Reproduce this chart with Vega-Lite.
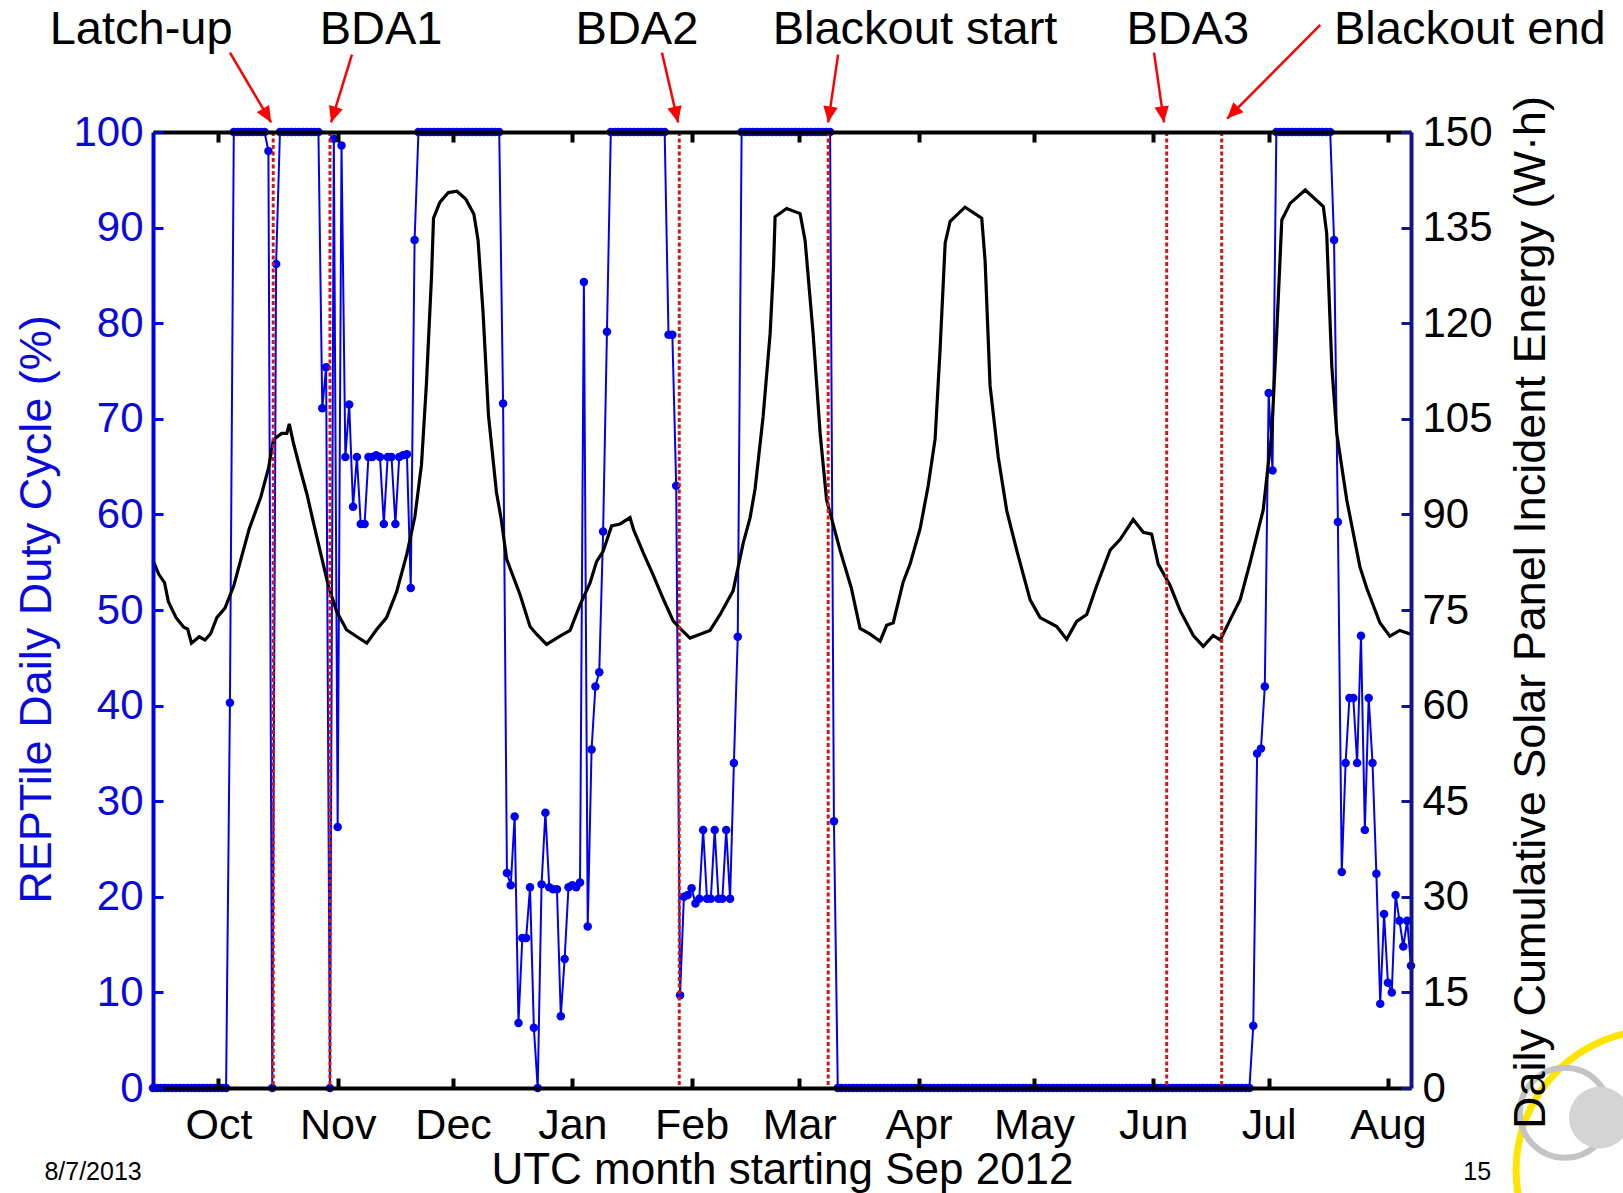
{
"$schema": "https://vega.github.io/schema/vega-lite/v6.json",
"width": 1258, "height": 956,
"autosize": {"type": "none"},
"padding": {"left": 153, "top": 132, "right": 212, "bottom": 105},
"background": "white",
"config": {"view": {"stroke": null}, "font": "Liberation Sans", "axis": {"grid": false}},
"datasets": {
"duty": [
{"t":"2012-09-14","v":0},{"t":"2012-09-15","v":0},{"t":"2012-09-16","v":0},{"t":"2012-09-17","v":0},{"t":"2012-09-18","v":0},{"t":"2012-09-19","v":0},{"t":"2012-09-20","v":0},{"t":"2012-09-21","v":0},{"t":"2012-09-22","v":0},{"t":"2012-09-23","v":0},{"t":"2012-09-24","v":0},{"t":"2012-09-25","v":0},{"t":"2012-09-26","v":0},{"t":"2012-09-27","v":0},{"t":"2012-09-28","v":0},{"t":"2012-09-29","v":0},{"t":"2012-09-30","v":0},
{"t":"2012-10-01","v":0},{"t":"2012-10-02","v":0},{"t":"2012-10-03","v":0},{"t":"2012-10-04","v":40.3},
{"t":"2012-10-05","v":100},{"t":"2012-10-06","v":100},{"t":"2012-10-07","v":100},{"t":"2012-10-08","v":100},{"t":"2012-10-09","v":100},{"t":"2012-10-10","v":100},{"t":"2012-10-11","v":100},{"t":"2012-10-12","v":100},{"t":"2012-10-13","v":100},
{"t":"2012-10-14","v":98},{"t":"2012-10-15","v":0},{"t":"2012-10-16","v":86.2},
{"t":"2012-10-17","v":100},{"t":"2012-10-18","v":100},{"t":"2012-10-19","v":100},{"t":"2012-10-20","v":100},{"t":"2012-10-21","v":100},{"t":"2012-10-22","v":100},{"t":"2012-10-23","v":100},{"t":"2012-10-24","v":100},{"t":"2012-10-25","v":100},{"t":"2012-10-26","v":100},{"t":"2012-10-27","v":100},
{"t":"2012-10-28","v":71.1},{"t":"2012-10-29","v":75.4},{"t":"2012-10-30","v":0},{"t":"2012-10-31","v":99.3},
{"t":"2012-11-01","v":27.3},{"t":"2012-11-02","v":98.6},{"t":"2012-11-03","v":66},{"t":"2012-11-04","v":71.5},{"t":"2012-11-05","v":60.8},{"t":"2012-11-06","v":66},{"t":"2012-11-07","v":59},{"t":"2012-11-08","v":59},{"t":"2012-11-09","v":66},{"t":"2012-11-10","v":66},{"t":"2012-11-11","v":66.2},{"t":"2012-11-12","v":66},{"t":"2012-11-13","v":59},{"t":"2012-11-14","v":66},{"t":"2012-11-15","v":66},{"t":"2012-11-16","v":59},{"t":"2012-11-17","v":66},{"t":"2012-11-18","v":66.2},{"t":"2012-11-19","v":66.3},{"t":"2012-11-20","v":52.3},{"t":"2012-11-21","v":88.7},
{"t":"2012-11-22","v":100},{"t":"2012-11-23","v":100},{"t":"2012-11-24","v":100},{"t":"2012-11-25","v":100},{"t":"2012-11-26","v":100},{"t":"2012-11-27","v":100},{"t":"2012-11-28","v":100},{"t":"2012-11-29","v":100},{"t":"2012-11-30","v":100},
{"t":"2012-12-01","v":100},{"t":"2012-12-02","v":100},{"t":"2012-12-03","v":100},{"t":"2012-12-04","v":100},{"t":"2012-12-05","v":100},{"t":"2012-12-06","v":100},{"t":"2012-12-07","v":100},{"t":"2012-12-08","v":100},{"t":"2012-12-09","v":100},{"t":"2012-12-10","v":100},{"t":"2012-12-11","v":100},{"t":"2012-12-12","v":100},{"t":"2012-12-13","v":100},
{"t":"2012-12-14","v":71.6},{"t":"2012-12-15","v":22.5},{"t":"2012-12-16","v":21.2},{"t":"2012-12-17","v":28.4},{"t":"2012-12-18","v":6.8},{"t":"2012-12-19","v":15.7},{"t":"2012-12-20","v":15.7},{"t":"2012-12-21","v":21},{"t":"2012-12-22","v":6.3},{"t":"2012-12-23","v":0},{"t":"2012-12-24","v":21.3},{"t":"2012-12-25","v":28.8},{"t":"2012-12-26","v":21},{"t":"2012-12-27","v":20.8},{"t":"2012-12-28","v":20.8},{"t":"2012-12-29","v":7.5},{"t":"2012-12-30","v":13.5},{"t":"2012-12-31","v":21},
{"t":"2013-01-01","v":21.2},{"t":"2013-01-02","v":21},{"t":"2013-01-03","v":21.5},{"t":"2013-01-04","v":84.3},{"t":"2013-01-05","v":16.9},{"t":"2013-01-06","v":35.4},{"t":"2013-01-07","v":42},{"t":"2013-01-08","v":43.5},{"t":"2013-01-09","v":58.2},{"t":"2013-01-10","v":79.1},
{"t":"2013-01-11","v":100},{"t":"2013-01-12","v":100},{"t":"2013-01-13","v":100},{"t":"2013-01-14","v":100},{"t":"2013-01-15","v":100},{"t":"2013-01-16","v":100},{"t":"2013-01-17","v":100},{"t":"2013-01-18","v":100},{"t":"2013-01-19","v":100},{"t":"2013-01-20","v":100},{"t":"2013-01-21","v":100},{"t":"2013-01-22","v":100},{"t":"2013-01-23","v":100},{"t":"2013-01-24","v":100},{"t":"2013-01-25","v":100},
{"t":"2013-01-26","v":78.8},{"t":"2013-01-27","v":78.8},{"t":"2013-01-28","v":63},{"t":"2013-01-29","v":9.7},{"t":"2013-01-30","v":20},{"t":"2013-01-31","v":20.2},
{"t":"2013-02-01","v":20.9},{"t":"2013-02-02","v":19.3},{"t":"2013-02-03","v":19.8},{"t":"2013-02-04","v":27},{"t":"2013-02-05","v":19.8},{"t":"2013-02-06","v":19.8},{"t":"2013-02-07","v":27},{"t":"2013-02-08","v":19.8},{"t":"2013-02-09","v":19.8},{"t":"2013-02-10","v":27},{"t":"2013-02-11","v":19.8},{"t":"2013-02-12","v":34},{"t":"2013-02-13","v":47.2},
{"t":"2013-02-14","v":100},{"t":"2013-02-15","v":100},{"t":"2013-02-16","v":100},{"t":"2013-02-17","v":100},{"t":"2013-02-18","v":100},{"t":"2013-02-19","v":100},{"t":"2013-02-20","v":100},{"t":"2013-02-21","v":100},{"t":"2013-02-22","v":100},{"t":"2013-02-23","v":100},{"t":"2013-02-24","v":100},{"t":"2013-02-25","v":100},{"t":"2013-02-26","v":100},{"t":"2013-02-27","v":100},{"t":"2013-02-28","v":100},
{"t":"2013-03-01","v":100},{"t":"2013-03-02","v":100},{"t":"2013-03-03","v":100},{"t":"2013-03-04","v":100},{"t":"2013-03-05","v":100},{"t":"2013-03-06","v":100},{"t":"2013-03-07","v":100},{"t":"2013-03-08","v":100},{"t":"2013-03-09","v":100},
{"t":"2013-03-10","v":27.9},
{"t":"2013-03-11","v":0},{"t":"2013-03-12","v":0},{"t":"2013-03-13","v":0},{"t":"2013-03-14","v":0},{"t":"2013-03-15","v":0},{"t":"2013-03-16","v":0},{"t":"2013-03-17","v":0},{"t":"2013-03-18","v":0},{"t":"2013-03-19","v":0},{"t":"2013-03-20","v":0},{"t":"2013-03-21","v":0},{"t":"2013-03-22","v":0},{"t":"2013-03-23","v":0},{"t":"2013-03-24","v":0},{"t":"2013-03-25","v":0},{"t":"2013-03-26","v":0},{"t":"2013-03-27","v":0},{"t":"2013-03-28","v":0},{"t":"2013-03-29","v":0},{"t":"2013-03-30","v":0},{"t":"2013-03-31","v":0},
{"t":"2013-04-01","v":0},{"t":"2013-04-02","v":0},{"t":"2013-04-03","v":0},{"t":"2013-04-04","v":0},{"t":"2013-04-05","v":0},{"t":"2013-04-06","v":0},{"t":"2013-04-07","v":0},{"t":"2013-04-08","v":0},{"t":"2013-04-09","v":0},{"t":"2013-04-10","v":0},{"t":"2013-04-11","v":0},{"t":"2013-04-12","v":0},{"t":"2013-04-13","v":0},{"t":"2013-04-14","v":0},{"t":"2013-04-15","v":0},{"t":"2013-04-16","v":0},{"t":"2013-04-17","v":0},{"t":"2013-04-18","v":0},{"t":"2013-04-19","v":0},{"t":"2013-04-20","v":0},{"t":"2013-04-21","v":0},{"t":"2013-04-22","v":0},{"t":"2013-04-23","v":0},{"t":"2013-04-24","v":0},{"t":"2013-04-25","v":0},{"t":"2013-04-26","v":0},{"t":"2013-04-27","v":0},{"t":"2013-04-28","v":0},{"t":"2013-04-29","v":0},{"t":"2013-04-30","v":0},
{"t":"2013-05-01","v":0},{"t":"2013-05-02","v":0},{"t":"2013-05-03","v":0},{"t":"2013-05-04","v":0},{"t":"2013-05-05","v":0},{"t":"2013-05-06","v":0},{"t":"2013-05-07","v":0},{"t":"2013-05-08","v":0},{"t":"2013-05-09","v":0},{"t":"2013-05-10","v":0},{"t":"2013-05-11","v":0},{"t":"2013-05-12","v":0},{"t":"2013-05-13","v":0},{"t":"2013-05-14","v":0},{"t":"2013-05-15","v":0},{"t":"2013-05-16","v":0},{"t":"2013-05-17","v":0},{"t":"2013-05-18","v":0},{"t":"2013-05-19","v":0},{"t":"2013-05-20","v":0},{"t":"2013-05-21","v":0},{"t":"2013-05-22","v":0},{"t":"2013-05-23","v":0},{"t":"2013-05-24","v":0},{"t":"2013-05-25","v":0},{"t":"2013-05-26","v":0},{"t":"2013-05-27","v":0},{"t":"2013-05-28","v":0},{"t":"2013-05-29","v":0},{"t":"2013-05-30","v":0},{"t":"2013-05-31","v":0},
{"t":"2013-06-01","v":0},{"t":"2013-06-02","v":0},{"t":"2013-06-03","v":0},{"t":"2013-06-04","v":0},{"t":"2013-06-05","v":0},{"t":"2013-06-06","v":0},{"t":"2013-06-07","v":0},{"t":"2013-06-08","v":0},{"t":"2013-06-09","v":0},{"t":"2013-06-10","v":0},{"t":"2013-06-11","v":0},{"t":"2013-06-12","v":0},{"t":"2013-06-13","v":0},{"t":"2013-06-14","v":0},{"t":"2013-06-15","v":0},{"t":"2013-06-16","v":0},{"t":"2013-06-17","v":0},{"t":"2013-06-18","v":0},{"t":"2013-06-19","v":0},{"t":"2013-06-20","v":0},{"t":"2013-06-21","v":0},{"t":"2013-06-22","v":0},{"t":"2013-06-23","v":0},{"t":"2013-06-24","v":0},{"t":"2013-06-25","v":0},{"t":"2013-06-26","v":0},
{"t":"2013-06-27","v":6.5},{"t":"2013-06-28","v":35},{"t":"2013-06-29","v":35.5},{"t":"2013-06-30","v":42},{"t":"2013-07-01","v":72.7},{"t":"2013-07-02","v":64.6},
{"t":"2013-07-03","v":100},{"t":"2013-07-04","v":100},{"t":"2013-07-05","v":100},{"t":"2013-07-06","v":100},{"t":"2013-07-07","v":100},{"t":"2013-07-08","v":100},{"t":"2013-07-09","v":100},{"t":"2013-07-10","v":100},{"t":"2013-07-11","v":100},{"t":"2013-07-12","v":100},{"t":"2013-07-13","v":100},{"t":"2013-07-14","v":100},{"t":"2013-07-15","v":100},{"t":"2013-07-16","v":100},{"t":"2013-07-17","v":100},
{"t":"2013-07-18","v":88.7},{"t":"2013-07-19","v":59.2},{"t":"2013-07-20","v":22.6},{"t":"2013-07-21","v":34},{"t":"2013-07-22","v":40.8},{"t":"2013-07-23","v":40.8},{"t":"2013-07-24","v":34},{"t":"2013-07-25","v":47.3},{"t":"2013-07-26","v":27},{"t":"2013-07-27","v":40.8},{"t":"2013-07-28","v":34},{"t":"2013-07-29","v":22.4},{"t":"2013-07-30","v":8.8},{"t":"2013-07-31","v":18.2},
{"t":"2013-08-01","v":11},{"t":"2013-08-02","v":10},{"t":"2013-08-03","v":20.2},{"t":"2013-08-04","v":17.5},{"t":"2013-08-05","v":14.8},{"t":"2013-08-06","v":17.5},{"t":"2013-08-07","v":12.8}
],
"solar": [
{"t":"2012-09-14T00:00Z","e":82.8},{"t":"2012-09-15T12:00Z","e":80.6},{"t":"2012-09-17T00:00Z","e":79.3},{"t":"2012-09-18T00:00Z","e":76.3},{"t":"2012-09-20T00:00Z","e":73.8},{"t":"2012-09-22T00:00Z","e":72.3},{"t":"2012-09-23T00:00Z","e":72.0},{"t":"2012-09-24T00:00Z","e":69.8},{"t":"2012-09-26T00:00Z","e":70.8},{"t":"2012-09-27T12:00Z","e":70.3},{"t":"2012-09-29T00:00Z","e":71.3},{"t":"2012-09-30T14:00Z","e":73.8},
{"t":"2012-10-02T17:00Z","e":75.3},{"t":"2012-10-05T00:00Z","e":78.8},{"t":"2012-10-07T00:00Z","e":83.3},{"t":"2012-10-09T00:00Z","e":87.7},{"t":"2012-10-12T00:00Z","e":92.7},{"t":"2012-10-14T00:00Z","e":97.2},{"t":"2012-10-15T07:00Z","e":101.7},{"t":"2012-10-17T10:00Z","e":102.7},{"t":"2012-10-18T19:00Z","e":102.7},{"t":"2012-10-19T10:00Z","e":104.2},{"t":"2012-10-20T12:00Z","e":101.2},{"t":"2012-10-22T05:00Z","e":97.2},{"t":"2012-10-24T00:00Z","e":93.2},{"t":"2012-10-25T17:00Z","e":88.7},{"t":"2012-10-27T10:00Z","e":84.3},{"t":"2012-10-29T14:00Z","e":78.8},{"t":"2012-10-31T17:00Z","e":74.8},
{"t":"2012-11-03T07:00Z","e":71.9},{"t":"2012-11-06T00:00Z","e":70.8},{"t":"2012-11-08T14:00Z","e":69.8},{"t":"2012-11-11T02:00Z","e":71.9},{"t":"2012-11-13T17:00Z","e":73.8},{"t":"2012-11-16T07:00Z","e":77.8},{"t":"2012-11-19T00:00Z","e":83.8},{"t":"2012-11-21T02:00Z","e":89.7},{"t":"2012-11-22T19:00Z","e":97.8},{"t":"2012-11-24T02:00Z","e":110.6},{"t":"2012-11-25T10:00Z","e":127.6},{"t":"2012-11-25T22:00Z","e":136.5},{"t":"2012-11-27T14:00Z","e":139},{"t":"2012-11-29T19:00Z","e":140.5},
{"t":"2012-12-02T00:00Z","e":140.7},{"t":"2012-12-04T07:00Z","e":139.5},{"t":"2012-12-06T10:00Z","e":137.1},{"t":"2012-12-07T12:00Z","e":133},{"t":"2012-12-08T19:00Z","e":121.7},{"t":"2012-12-10T05:00Z","e":105.5},{"t":"2012-12-12T07:00Z","e":93.4},{"t":"2012-12-13T12:00Z","e":89.3},{"t":"2012-12-14T22:00Z","e":83},{"t":"2012-12-18T10:00Z","e":77.4},{"t":"2012-12-21T00:00Z","e":72.4},{"t":"2012-12-22T17:00Z","e":71.2},{"t":"2012-12-25T07:00Z","e":69.6},{"t":"2012-12-28T19:00Z","e":70.9},{"t":"2012-12-31T10:00Z","e":71.8},
{"t":"2013-01-03T00:00Z","e":75.8},{"t":"2013-01-05T14:00Z","e":79.2},{"t":"2013-01-07T07:00Z","e":82.6},{"t":"2013-01-09T00:00Z","e":84.2},{"t":"2013-01-11T05:00Z","e":88.2},{"t":"2013-01-13T10:00Z","e":88.5},{"t":"2013-01-16T00:00Z","e":89.5},{"t":"2013-01-16T22:00Z","e":87.6},{"t":"2013-01-19T12:00Z","e":83.9},{"t":"2013-01-22T00:00Z","e":80.5},{"t":"2013-01-24T14:00Z","e":76.8},{"t":"2013-01-27T05:00Z","e":73.3},{"t":"2013-01-29T00:00Z","e":72.1},{"t":"2013-01-31T14:00Z","e":70.6},
{"t":"2013-02-03T05:00Z","e":71.2},{"t":"2013-02-05T19:00Z","e":71.8},{"t":"2013-02-08T10:00Z","e":74.3},{"t":"2013-02-11T19:00Z","e":78},{"t":"2013-02-14T10:00Z","e":85.5},{"t":"2013-02-16T05:00Z","e":89.5},{"t":"2013-02-17T12:00Z","e":94},{"t":"2013-02-19T14:00Z","e":105.3},{"t":"2013-02-21T10:00Z","e":118.4},{"t":"2013-02-22T07:00Z","e":128.9},{"t":"2013-02-22T17:00Z","e":136.7},{"t":"2013-02-25T17:00Z","e":138},
{"t":"2013-03-01T05:00Z","e":137.2},{"t":"2013-03-02T12:00Z","e":133},{"t":"2013-03-04T14:00Z","e":118.4},{"t":"2013-03-06T10:00Z","e":102.7},{"t":"2013-03-08T02:00Z","e":92.3},{"t":"2013-03-11T14:00Z","e":84.4},{"t":"2013-03-14T12:00Z","e":78.5},{"t":"2013-03-16T19:00Z","e":72.1},{"t":"2013-03-19T10:00Z","e":71.2},{"t":"2013-03-22T00:00Z","e":70.1},{"t":"2013-03-23T17:00Z","e":72.6},{"t":"2013-03-25T10:00Z","e":73},{"t":"2013-03-28T00:00Z","e":79.4},{"t":"2013-03-29T19:00Z","e":82.2},
{"t":"2013-04-01T10:00Z","e":87.8},{"t":"2013-04-03T12:00Z","e":94.5},{"t":"2013-04-05T07:00Z","e":101.8},{"t":"2013-04-06T14:00Z","e":115.8},{"t":"2013-04-07T22:00Z","e":132.6},{"t":"2013-04-09T05:00Z","e":136},{"t":"2013-04-13T02:00Z","e":138.2},{"t":"2013-04-17T10:00Z","e":136.5},{"t":"2013-04-18T07:00Z","e":129.8},{"t":"2013-04-19T14:00Z","e":110.2},{"t":"2013-04-21T17:00Z","e":99},{"t":"2013-04-23T22:00Z","e":90.6},{"t":"2013-04-26T12:00Z","e":84.4},{"t":"2013-04-30T00:00Z","e":76.6},
{"t":"2013-05-02T14:00Z","e":73.8},{"t":"2013-05-06T22:00Z","e":72.4},{"t":"2013-05-09T12:00Z","e":70.4},{"t":"2013-05-12T02:00Z","e":73.2},{"t":"2013-05-14T17:00Z","e":74.3},{"t":"2013-05-17T07:00Z","e":78.8},{"t":"2013-05-20T19:00Z","e":84.4},{"t":"2013-05-23T10:00Z","e":86.1},{"t":"2013-05-26T19:00Z","e":89.2},{"t":"2013-05-29T10:00Z","e":87.2},{"t":"2013-05-31T14:00Z","e":86.9},
{"t":"2013-06-02T07:00Z","e":82.2},{"t":"2013-06-05T10:00Z","e":78.8},{"t":"2013-06-08T00:00Z","e":74.9},{"t":"2013-06-11T10:00Z","e":71},{"t":"2013-06-14T00:00Z","e":69.3},{"t":"2013-06-16T14:00Z","e":71},{"t":"2013-06-18T10:00Z","e":70.3},{"t":"2013-06-21T10:00Z","e":74},{"t":"2013-06-23T14:00Z","e":76.6},{"t":"2013-06-26T05:00Z","e":82.5},{"t":"2013-06-29T14:00Z","e":90.7},
{"t":"2013-07-01T19:00Z","e":102.7},{"t":"2013-07-03T02:00Z","e":118.4},{"t":"2013-07-04T10:00Z","e":136.2},{"t":"2013-07-06T14:00Z","e":138.8},{"t":"2013-07-10T12:00Z","e":140.9},{"t":"2013-07-15T05:00Z","e":138.3},{"t":"2013-07-16T02:00Z","e":134.1},{"t":"2013-07-17T10:00Z","e":113.2},{"t":"2013-07-18T17:00Z","e":102.7},{"t":"2013-07-21T07:00Z","e":92.3},{"t":"2013-07-24T17:00Z","e":81.8},{"t":"2013-07-26T12:00Z","e":78.4},{"t":"2013-07-29T22:00Z","e":73},
{"t":"2013-08-01T12:00Z","e":70.9},{"t":"2013-08-04T02:00Z","e":71.8},{"t":"2013-08-07T00:00Z","e":71.2}
],
"events": [
{"t":"2012-10-15T06:00Z","event":"Latch-up"},
{"t":"2012-10-30T00:00Z","event":"BDA1"},
{"t":"2013-01-28T19:00Z","event":"BDA2"},
{"t":"2013-03-08T12:00Z","event":"Blackout start"},
{"t":"2013-06-04T12:00Z","event":"BDA3"},
{"t":"2013-06-18T19:00Z","event":"Blackout end"}
],
"arrows": [
{"event":"Latch-up","t":"2012-10-04T00:00Z","y":108.3,"t2":"2012-10-14T17:00Z","y2":101.0},
{"event":"BDA1","t":"2012-11-04T17:00Z","y":108.1,"t2":"2012-10-30T07:00Z","y2":101.0},
{"event":"BDA2","t":"2013-01-24T07:00Z","y":108.3,"t2":"2013-01-28T12:00Z","y2":101.0},
{"event":"Blackout start","t":"2013-03-11T02:00Z","y":108.1,"t2":"2013-03-08T12:00Z","y2":101.0},
{"event":"BDA3","t":"2013-06-01T05:00Z","y":108.3,"t2":"2013-06-03T19:00Z","y2":101.0},
{"event":"Blackout end","t":"2013-07-14T10:00Z","y":111.2,"t2":"2013-06-20T05:00Z","y2":101.4}
],
"labels": [
{"event":"Latch-up","t":"2012-09-10T22:00Z","y":110.7},
{"event":"BDA1","t":"2012-11-12T07:00Z","y":110.7},
{"event":"BDA2","t":"2013-01-17T19:00Z","y":110.7},
{"event":"Blackout start","t":"2013-03-31T02:00Z","y":110.7},
{"event":"BDA3","t":"2013-06-10T00:00Z","y":110.7},
{"event":"Blackout end","t":"2013-08-22T07:00Z","y":110.7}
],
"footer": [
{"text":"8/7/2013","t":"2012-08-29T10:00Z","y":-8.8},
{"text":"15","t":"2013-08-24T05:00Z","y":-8.8}
],
"logo": [
{"part":"ring","t":"2013-10-09T17:00Z","y":-8.6},
{"part":"outline","t":"2013-09-16T00:00Z","y":-2.6},
{"part":"disc","t":"2013-09-25T02:00Z","y":-3.1}
]
},
"layer": [
{
"data": {"name": "logo"},
"transform": [{"filter": "datum.part === 'ring'"}],
"mark": {"type": "point", "shape": "circle", "filled": false, "stroke": "#FFE400", "strokeWidth": 7, "size": 78400, "opacity": 1},
"encoding": {
"x": {"field": "t", "type": "temporal", "axis": null},
"y": {"field": "y", "type": "quantitative", "scale": {"domain": [0, 100], "nice": false, "zero": false}, "axis": null}
}
},
{
"data": {"name": "logo"},
"transform": [{"filter": "datum.part === 'outline'"}],
"mark": {"type": "point", "shape": "circle", "filled": false, "stroke": "#C4C4C4", "strokeWidth": 6, "size": 8100, "opacity": 1},
"encoding": {
"x": {"field": "t", "type": "temporal", "axis": null},
"y": {"field": "y", "type": "quantitative", "scale": {"domain": [0, 100], "nice": false, "zero": false}, "axis": null}
}
},
{
"data": {"name": "logo"},
"transform": [{"filter": "datum.part === 'disc'"}],
"mark": {"type": "point", "shape": "circle", "filled": true, "color": "#D4D4D4", "size": 3800, "opacity": 1},
"encoding": {
"x": {"field": "t", "type": "temporal", "axis": null},
"y": {"field": "y", "type": "quantitative", "scale": {"domain": [0, 100], "nice": false, "zero": false}, "axis": null}
}
},
{
"data": {"name": "duty"},
"mark": {"type": "line", "color": "#0000F5", "strokeWidth": 2},
"encoding": {
"x": {"field": "t", "type": "temporal",
"scale": {"type": "utc", "nice": false, "domain": [{"year": 2012, "month": 9, "date": 14, "utc": true}, {"year": 2013, "month": 8, "date": 7, "utc": true}]},
"axis": {"orient": "bottom", "format": "%b", "grid": false, "zindex": 2,
"values": [{"year":2012,"month":10,"date":1,"utc":true},{"year":2012,"month":11,"date":1,"utc":true},{"year":2012,"month":12,"date":1,"utc":true},{"year":2013,"month":1,"date":1,"utc":true},{"year":2013,"month":2,"date":1,"utc":true},{"year":2013,"month":3,"date":1,"utc":true},{"year":2013,"month":4,"date":1,"utc":true},{"year":2013,"month":5,"date":1,"utc":true},{"year":2013,"month":6,"date":1,"utc":true},{"year":2013,"month":7,"date":1,"utc":true},{"year":2013,"month":8,"date":1,"utc":true}],
"labelFont": "Liberation Sans", "labelFontSize": 43, "labelColor": "black", "labelBaseline": "alphabetic", "labelPadding": 60, "labelFlush": false, "labelOverlap": false,
"tickSize": -10, "tickWidth": 4, "tickColor": "black", "domainColor": "black", "domainWidth": 4,
"title": "UTC month starting Sep 2012", "titleFont": "Liberation Sans", "titleFontSize": 44, "titleFontWeight": "normal", "titleColor": "black",
"titleX": 629, "titleY": 95, "titleAlign": "center", "titleBaseline": "alphabetic"}},
"y": {"field": "v", "type": "quantitative",
"scale": {"domain": [0, 100], "nice": false, "zero": false},
"axis": {"orient": "left", "values": [0,10,20,30,40,50,60,70,80,90,100], "grid": false, "zindex": 2,
"labelFont": "Liberation Sans", "labelFontSize": 42, "labelColor": "#0A0ADC", "labelPadding": 20,
"tickSize": -10, "tickWidth": 3, "tickColor": "#0000E6", "domainColor": "#0000E6", "domainWidth": 4,
"title": "REPTile Daily Duty Cycle (%)", "titleFont": "Liberation Sans", "titleFontSize": 45, "titleFontWeight": "normal", "titleColor": "#0A0ADC",
"titleAngle": 270, "titleX": -103, "titleY": 477, "titleAlign": "center", "titleBaseline": "alphabetic"}}
}
},
{
"data": {"name": "duty"},
"mark": {"type": "point", "filled": true, "color": "#0000F5", "size": 72, "opacity": 1},
"encoding": {
"x": {"field": "t", "type": "temporal", "axis": null},
"y": {"field": "v", "type": "quantitative", "scale": {"domain": [0, 100], "nice": false, "zero": false}, "axis": null}
}
},
{
"data": {"name": "solar"},
"mark": {"type": "line", "color": "black", "strokeWidth": 3.2},
"encoding": {
"x": {"field": "t", "type": "temporal",
"axis": {"orient": "top", "labels": false, "title": null, "grid": false, "zindex": 2,
"values": [{"year":2012,"month":10,"date":1,"utc":true},{"year":2012,"month":11,"date":1,"utc":true},{"year":2012,"month":12,"date":1,"utc":true},{"year":2013,"month":1,"date":1,"utc":true},{"year":2013,"month":2,"date":1,"utc":true},{"year":2013,"month":3,"date":1,"utc":true},{"year":2013,"month":4,"date":1,"utc":true},{"year":2013,"month":5,"date":1,"utc":true},{"year":2013,"month":6,"date":1,"utc":true},{"year":2013,"month":7,"date":1,"utc":true},{"year":2013,"month":8,"date":1,"utc":true}],
"tickSize": -10, "tickWidth": 4, "tickColor": "black", "domainColor": "black", "domainWidth": 4}},
"y": {"field": "e", "type": "quantitative",
"scale": {"domain": [0, 150], "nice": false, "zero": false},
"axis": {"orient": "right", "values": [0,15,30,45,60,75,90,105,120,135,150], "grid": false, "zindex": 2,
"labelFont": "Liberation Sans", "labelFontSize": 42, "labelColor": "black", "labelPadding": 21,
"tickSize": -10, "tickWidth": 3, "tickColor": "#14148C", "domainColor": "#14148C", "domainWidth": 4,
"title": "Daily Cumulative Solar Panel Incident Energy (W·h)", "titleFont": "Liberation Sans", "titleFontSize": 45, "titleFontWeight": "normal", "titleColor": "black",
"titleAngle": 270, "titleX": 133, "titleY": 480, "titleAlign": "center", "titleBaseline": "alphabetic"}}
}
},
{
"data": {"name": "events"},
"mark": {"type": "rule", "color": "#D01818", "strokeWidth": 3, "strokeDash": [4, 2.5]},
"encoding": {
"x": {"field": "t", "type": "temporal", "axis": null}
}
},
{
"data": {"name": "arrows"},
"mark": {"type": "rule", "color": "#FF0000", "strokeWidth": 2.5},
"encoding": {
"x": {"field": "t", "type": "temporal", "axis": null},
"x2": {"field": "t2"},
"y": {"field": "y", "type": "quantitative", "scale": {"domain": [0, 100], "nice": false, "zero": false}, "axis": null},
"y2": {"field": "y2"}
}
},
{
"data": {"name": "arrows"},
"mark": {"type": "point", "filled": true, "color": "#FF0000", "size": 1024, "opacity": 1, "strokeWidth": 0},
"encoding": {
"x": {"field": "t2", "type": "temporal", "axis": null},
"y": {"field": "y2", "type": "quantitative", "scale": {"domain": [0, 100], "nice": false, "zero": false}, "axis": null},
"shape": {"field": "event", "type": "nominal", "legend": null,
"scale": {"domain": ["Latch-up", "BDA1", "BDA2", "Blackout start", "BDA3", "Blackout end"],
"range": ["M0,0L-0.898,-0.630L-0.124,-1.090Z", "M0,0L-0.130,-1.089L0.728,-0.819Z", "M0,0L-0.664,-0.872L0.212,-1.076Z", "M0,0L-0.297,-1.056L0.593,-0.922Z", "M0,0L-0.589,-0.926L0.303,-1.054Z", "M0,0L0.383,-1.027L1.023,-0.395Z"]}}
}
},
{
"data": {"name": "labels"},
"mark": {"type": "text", "font": "Liberation Sans", "fontSize": 47, "color": "black", "align": "center", "baseline": "middle"},
"encoding": {
"x": {"field": "t", "type": "temporal", "axis": null},
"y": {"field": "y", "type": "quantitative", "scale": {"domain": [0, 100], "nice": false, "zero": false}, "axis": null},
"text": {"field": "event"}
}
},
{
"data": {"name": "footer"},
"mark": {"type": "text", "font": "Liberation Sans", "fontSize": 25, "color": "black", "align": "center", "baseline": "middle"},
"encoding": {
"x": {"field": "t", "type": "temporal", "axis": null},
"y": {"field": "y", "type": "quantitative", "scale": {"domain": [0, 100], "nice": false, "zero": false}, "axis": null},
"text": {"field": "text"}
}
}
],
"resolve": {"scale": {"y": "independent"}, "axis": {"x": "independent", "y": "independent"}}
}
